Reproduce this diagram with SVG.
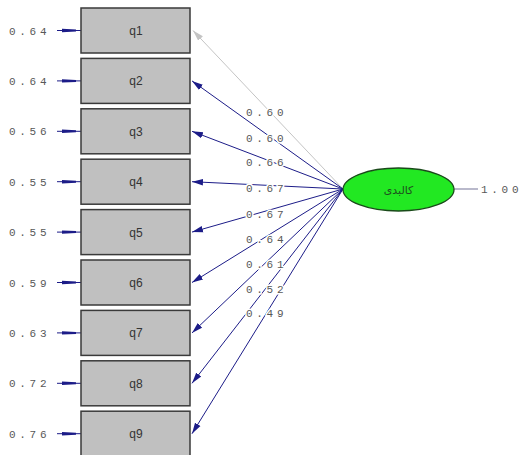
<svg xmlns="http://www.w3.org/2000/svg" width="524" height="455" viewBox="0 0 524 455">
<style>
.box{fill:#c0c0c0;stroke:#3a3a3a;stroke-width:1.5}
.bl{font-family:"Liberation Sans",Arial,sans-serif;font-size:12px;fill:#333;text-anchor:middle}
.num{font-family:"Liberation Mono","Courier New",monospace;font-size:11px;fill:#585858;letter-spacing:3.7px}
.lnum{font-family:"Liberation Mono","Courier New",monospace;font-size:11px;fill:#585858;letter-spacing:3.7px;paint-order:stroke;stroke:#fff;stroke-width:3px}
.ld{stroke:#1c1c88;stroke-width:1;fill:none;marker-end:url(#ah)}
.ldg{stroke:#c4c4c4;stroke-width:1;fill:none;marker-end:url(#ahg)}
.err{stroke:#1c1c88;stroke-width:1;fill:none}
.eh{fill:#1c1c88}
</style>
<defs>
<marker id="ah" markerUnits="userSpaceOnUse" markerWidth="12" markerHeight="8" refX="11" refY="4" orient="auto">
<path d="M0,0.8 L11,4 L0,7.2 Z" fill="#1c1c88"/>
</marker>
<marker id="ahg" markerUnits="userSpaceOnUse" markerWidth="12" markerHeight="8" refX="11" refY="4" orient="auto">
<path d="M0,0.8 L11,4 L0,7.2 Z" fill="#c4c4c4"/>
</marker>
</defs>
<rect width="524" height="455" fill="#fff"/>
<g id="connectors">
<line class="ldg" x1="343" y1="189" x2="193" y2="30.5"/>
<line class="ld" x1="343" y1="189" x2="192" y2="80.9"/>
<line class="ld" x1="343" y1="189" x2="192" y2="131.3"/>
<line class="ld" x1="343" y1="189" x2="192" y2="181.7"/>
<line class="ld" x1="343" y1="189" x2="192" y2="232.1"/>
<line class="ld" x1="343" y1="189" x2="192" y2="282.5"/>
<line class="ld" x1="343" y1="189" x2="192" y2="332.9"/>
<line class="ld" x1="343" y1="189" x2="192" y2="383.3"/>
<line class="ld" x1="343" y1="189" x2="192" y2="433.7"/>
<line x1="454" y1="189" x2="478" y2="189" stroke="#8a8aa8" stroke-width="1.2"/>
<g id="errors">
<line class="err" x1="57" y1="30.5" x2="81" y2="30.5"/><path class="eh" d="M62,28.8 L76,29.5 L76,31.5 L62,32.2 Z"/>
<line class="err" x1="57" y1="80.9" x2="81" y2="80.9"/><path class="eh" d="M62,79.2 L76,79.9 L76,81.9 L62,82.6 Z"/>
<line class="err" x1="57" y1="131.3" x2="81" y2="131.3"/><path class="eh" d="M62,129.6 L76,130.3 L76,132.3 L62,133 Z"/>
<line class="err" x1="57" y1="181.7" x2="81" y2="181.7"/><path class="eh" d="M62,180 L76,180.7 L76,182.7 L62,183.4 Z"/>
<line class="err" x1="57" y1="232.1" x2="81" y2="232.1"/><path class="eh" d="M62,230.4 L76,231.1 L76,233.1 L62,233.8 Z"/>
<line class="err" x1="57" y1="282.5" x2="81" y2="282.5"/><path class="eh" d="M62,280.8 L76,281.5 L76,283.5 L62,284.2 Z"/>
<line class="err" x1="57" y1="332.9" x2="81" y2="332.9"/><path class="eh" d="M62,331.2 L76,331.9 L76,333.9 L62,334.6 Z"/>
<line class="err" x1="57" y1="383.3" x2="81" y2="383.3"/><path class="eh" d="M62,381.6 L76,382.3 L76,384.3 L62,385 Z"/>
<line class="err" x1="57" y1="433.7" x2="81" y2="433.7"/><path class="eh" d="M62,432 L76,432.7 L76,434.7 L62,435.4 Z"/>
</g>
<g id="loading-labels">
<text class="lnum" x="246" y="116">0.60</text>
<text class="lnum" x="246" y="141.5">0.60</text>
<text class="lnum" x="246" y="166">0.66</text>
<text class="lnum" x="246" y="191.5">0.67</text>
<text class="lnum" x="246" y="217.5">0.67</text>
<text class="lnum" x="246" y="242.5">0.64</text>
<text class="lnum" x="246" y="267.5">0.61</text>
<text class="lnum" x="246" y="292.5">0.52</text>
<text class="lnum" x="246" y="316.5">0.49</text>
</g>
</g>
<g id="q1"><rect class="box" x="81" y="8" width="109" height="45"/><text class="bl" x="136" y="35">q1</text><text class="num" x="9" y="34.5">0.64</text></g>
<g id="q2"><rect class="box" x="81" y="58.4" width="109" height="45"/><text class="bl" x="136" y="85.4">q2</text><text class="num" x="9" y="84.9">0.64</text></g>
<g id="q3"><rect class="box" x="81" y="108.8" width="109" height="45"/><text class="bl" x="136" y="135.8">q3</text><text class="num" x="9" y="135.3">0.56</text></g>
<g id="q4"><rect class="box" x="81" y="159.2" width="109" height="45"/><text class="bl" x="136" y="186.2">q4</text><text class="num" x="9" y="185.7">0.55</text></g>
<g id="q5"><rect class="box" x="81" y="209.6" width="109" height="45"/><text class="bl" x="136" y="236.6">q5</text><text class="num" x="9" y="236.1">0.55</text></g>
<g id="q6"><rect class="box" x="81" y="260" width="109" height="45"/><text class="bl" x="136" y="287">q6</text><text class="num" x="9" y="286.5">0.59</text></g>
<g id="q7"><rect class="box" x="81" y="310.4" width="109" height="45"/><text class="bl" x="136" y="337.4">q7</text><text class="num" x="9" y="336.9">0.63</text></g>
<g id="q8"><rect class="box" x="81" y="360.8" width="109" height="45"/><text class="bl" x="136" y="387.8">q8</text><text class="num" x="9" y="387.3">0.72</text></g>
<g id="q9"><rect class="box" x="81" y="411.2" width="109" height="45"/><text class="bl" x="136" y="438.2">q9</text><text class="num" x="9" y="437.7">0.76</text></g>
<g id="latent">
<ellipse cx="398.5" cy="189.5" rx="55.5" ry="21.5" fill="#22e822" stroke="#1a4a1a" stroke-width="1.3"/>
<text x="398.5" y="193.5" font-family="'DejaVu Sans',sans-serif" font-size="11px" fill="#1e4e1e" text-anchor="middle">کالبدی</text>
<text class="num" x="481" y="193">1.00</text>
</g>
</svg>
